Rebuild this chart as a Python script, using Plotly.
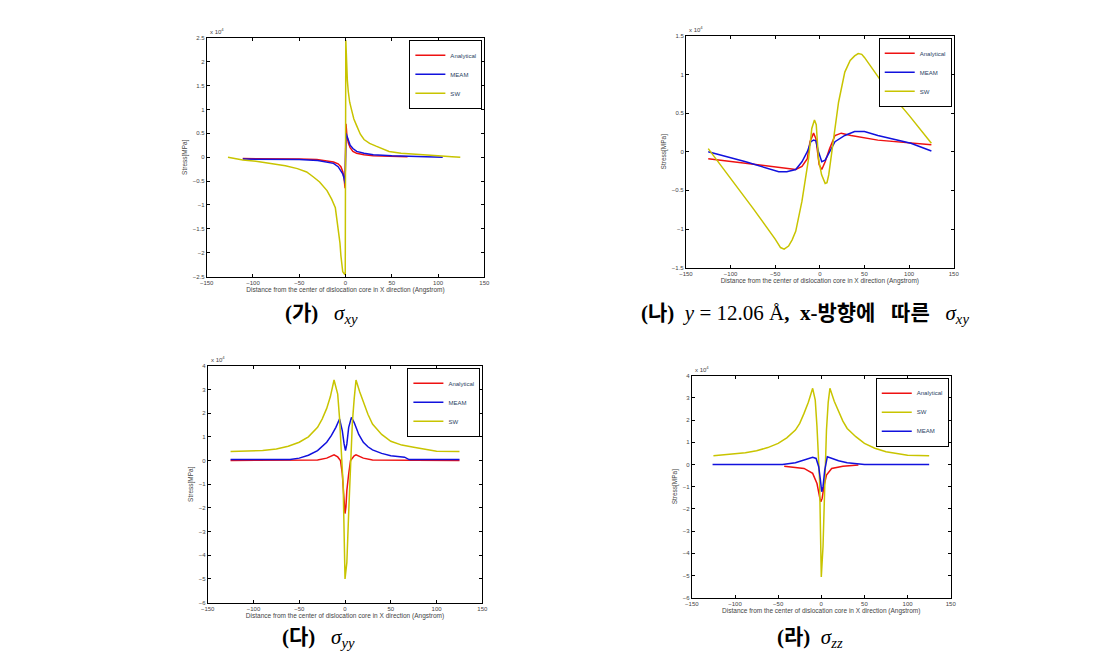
import plotly.graph_objects as go

# ---------------- data (stress, x10^4 MPa) ----------------
# (가) sigma_xy
x1_ana = [-111, -90, -70, -50, -31, -20, -13, -8, -5, -3, -1.5, -0.5, 0.5, 1.5, 3, 5, 8, 12, 20, 30, 45, 67]
y1_ana = [-0.03, -0.03, -0.04, -0.04, -0.05, -0.08, -0.1, -0.14, -0.2, -0.3, -0.45, -0.65, 0.7, 0.45, 0.3, 0.2, 0.12, 0.08, 0.05, 0.03, 0.02, 0.01]
x1_meam = [-111, -90, -70, -50, -30, -20, -13, -8, -5, -3, -1.5, -0.5, 0.5, 1.5, 3, 5, 8, 12, 20, 30, 50, 75, 105]
y1_meam = [-0.04, -0.04, -0.04, -0.05, -0.07, -0.1, -0.13, -0.2, -0.28, -0.35, -0.45, -0.55, 0.5, 0.45, 0.35, 0.25, 0.18, 0.12, 0.08, 0.05, 0.03, 0.02, 0.0]
x1_sw = [-127, -111, -95, -81, -65, -52, -42, -35, -28, -20, -15, -11, -8, -6, -5, -3, -1, -0.3,
         0.3, 1, 2, 3, 4.5, 6.4, 9, 12, 16, 20, 26, 33, 40, 47, 60, 79, 100, 115, 124]
y1_sw = [0.0, -0.06, -0.09, -0.13, -0.18, -0.24, -0.31, -0.41, -0.52, -0.7, -0.88, -1.06, -1.49, -1.8, -2.06, -2.4, -2.45, -2.45,
         2.45, 1.87, 1.6, 1.37, 1.15, 1.0, 0.8, 0.66, 0.48, 0.37, 0.29, 0.23, 0.17, 0.12, 0.08, 0.05, 0.03, 0.01, 0.0]

# (나) sigma_xy at y = 12.06 A
x2_ana = [-125, -38, -27, -20, -14, -11, -7, -4.4, -0.7, 2.2, 6, 11, 17, 24, 35, 65, 102, 125]
y2_ana = [-0.09, -0.21, -0.23, -0.19, -0.09, 0.13, 0.24, 0.17, -0.17, -0.23, -0.13, 0.04, 0.21, 0.24, 0.21, 0.15, 0.11, 0.09]
x2_meam = [-125, -83, -46, -37, -27, -20, -14, -10, -7, -4.4, -1.5, 2.2, 6, 11, 17, 28, 39, 50, 65, 102, 125]
y2_meam = [0.0, -0.13, -0.26, -0.26, -0.23, -0.13, 0.0, 0.13, 0.15, 0.14, 0.0, -0.13, -0.11, 0.0, 0.13, 0.21, 0.26, 0.26, 0.21, 0.11, 0.01]
x2_sw = [-125, -100, -75, -50, -44, -40, -35, -31, -27, -20, -12.6, -9, -6, -4, -1.5, 2, 6, 8, 10, 15, 21, 28, 34, 39, 43, 47, 50, 75, 100, 125]
y2_sw = [0.04, -0.34, -0.73, -1.13, -1.24, -1.26, -1.22, -1.14, -1.03, -0.64, -0.09, 0.3, 0.41, 0.35, -0.09, -0.3, -0.41, -0.4, -0.3, 0.13, 0.64, 1.03, 1.18, 1.24, 1.27, 1.26, 1.22, 0.81, 0.47, 0.11]

# (다) sigma_yy
x3_ana = [-125, -30, -20, -12, -8, -5, -3, -1, 0, 1, 2, 4, 6, 10, 12, 20, 30, 125]
y3_ana = [0.0, 0.02, 0.1, 0.24, 0.15, 0.0, -0.56, -1.7, -2.24, -1.96, -1.26, -0.56, 0.0, 0.2, 0.24, 0.1, 0.02, 0.0]
x3_meam = [-125, -60, -50, -40, -30, -25, -20, -15, -10, -6, -3, -1, 0.5, 2, 4, 7, 10, 15, 20, 25, 30, 40, 50, 65, 70, 125]
y3_meam = [0.04, 0.04, 0.1, 0.22, 0.42, 0.58, 0.77, 1.05, 1.4, 1.75, 1.26, 0.7, 0.42, 0.7, 1.4, 1.82, 1.6, 1.1, 0.77, 0.58, 0.45, 0.3, 0.2, 0.14, 0.04, 0.04]
x3_sw = [-125, -100, -90, -75, -62, -50, -40, -30, -25, -20, -16, -12, -10, -8, -6, -4, -2, 0, 2, 4, 6, 8, 10, 12, 16, 20, 25, 30, 40, 50, 62, 75, 90, 100, 125]
y3_sw = [0.38, 0.39, 0.42, 0.49, 0.6, 0.77, 1.0, 1.4, 1.75, 2.2, 2.7, 3.4, 3.1, 2.8, 1.8, 0.5, -1.1, -5.0, -4.3, -2.2, 0.14, 1.6, 2.6, 3.4, 2.9, 2.45, 1.95, 1.54, 1.1, 0.81, 0.65, 0.56, 0.45, 0.39, 0.38]

# (라) sigma_zz
x4_ana = [-43, -20, -10, -5, -2, -0.5, 1, 3, 6, 12, 25, 43]
y4_ana = [-0.08, -0.18, -0.4, -0.86, -1.46, -1.68, -1.53, -1.0, -0.48, -0.18, -0.08, -0.03]
x4_meam = [-126, -45, -30, -20, -10, -6, -3, -1, 0.5, 2, 4, 7, 12, 20, 30, 45, 50, 125]
y4_meam = [0.0, 0.0, 0.08, 0.2, 0.32, 0.27, -0.1, -0.7, -1.23, -1.0, -0.25, 0.35, 0.27, 0.17, 0.08, 0.02, 0.0, 0.0]
x4_sw = [-125, -100, -88, -75, -62, -50, -40, -30, -25, -20, -15, -10, -7, -5, -2, 0, 2, 4, 6, 8, 10, 15, 20, 25, 30, 40, 50, 62, 75, 88, 100, 125]
y4_sw = [0.39, 0.47, 0.53, 0.62, 0.76, 0.95, 1.2, 1.55, 1.85, 2.3, 2.8, 3.43, 2.9, 1.7, -0.7, -5.07, -3.7, -1.0, 1.55, 2.8, 3.43, 2.85, 2.38, 1.95, 1.62, 1.25, 0.95, 0.73, 0.57, 0.48, 0.42, 0.39]

x_ticks = [-150, -100, -50, 0, 50, 100, 150]
y1_ticks = [-2.5, -2, -1.5, -1, -0.5, 0, 0.5, 1, 1.5, 2, 2.5]
y2_ticks = [-1.5, -1, -0.5, 0, 0.5, 1, 1.5]
y34_ticks = [-6, -5, -4, -3, -2, -1, 0, 1, 2, 3, 4]

SP = "&nbsp;"
captions = ["<b>(가)</b>" + SP * 3 + "<i>σ<sub>xy</sub></i>",
            "<b>(나)</b>" + SP * 2 + "<i>y</i> = 12.06 Å<b>," + SP * 2 + "x-방향에" + SP * 3 + "따른</b>" + SP * 3 + "<i>σ<sub>xy</sub></i>",
            "<b>(다)</b>" + SP * 3 + "<i>σ<sub>yy</sub></i>",
            "<b>(라)</b>" + SP * 2 + "<i>σ<sub>zz</sub></i>"]

RED = "#ee1111"
BLUE = "#1111dd"
YEL = "#c8c400"

W, H = 1093, 662
def px(x): return x / W
def py(y): return 1 - y / H

boxes = [(194, 475, 27, 268), (679, 950, 25, 259), (195, 473, 358, 597), (685, 947, 368, 592)]

fig = go.Figure()

series = [
    [("Analytical", x1_ana, y1_ana, RED), ("MEAM", x1_meam, y1_meam, BLUE), ("SW", x1_sw, y1_sw, YEL)],
    [("Analytical", x2_ana, y2_ana, RED), ("MEAM", x2_meam, y2_meam, BLUE), ("SW", x2_sw, y2_sw, YEL)],
    [("Analytical", x3_ana, y3_ana, RED), ("MEAM", x3_meam, y3_meam, BLUE), ("SW", x3_sw, y3_sw, YEL)],
    [("Analytical", x4_ana, y4_ana, RED), ("SW", x4_sw, y4_sw, YEL), ("MEAM", x4_meam, y4_meam, BLUE)],
]
yticks = [y1_ticks, y2_ticks, y34_ticks, y34_ticks]
yranges = [[-2.5, 2.5], [-1.5, 1.5], [-6, 4], [-6, 4]]

FONT = "Arial, Liberation Sans, sans-serif"
tick_font = dict(family=FONT, size=6, color="#444")
xlabel = "Distance from the center of dislocation core in X direction (Angstrom)"

for i in range(4):
    n = i + 1
    suffix = "" if n == 1 else str(n)
    legname = "legend" if n == 1 else f"legend{n}"
    for name, xs, ys, col in series[i]:
        fig.add_trace(go.Scatter(x=xs, y=ys, mode="lines", name=name,
                                 line=dict(color=col, width=1.5),
                                 xaxis="x" + suffix, yaxis="y" + suffix,
                                 legend=legname, showlegend=True))
    x0, x1, y0, y1 = boxes[i]
    axstyle = dict(showline=True, linecolor="black", linewidth=1, mirror="ticks",
                   ticks="inside", ticklen=3, tickcolor="black", showgrid=False,
                   zeroline=False, tickfont=tick_font)
    fig.layout["xaxis" + suffix] = dict(domain=[px(x0), px(x1)], anchor="y" + suffix,
                                        range=[-150, 150], tickvals=x_ticks,
                                        title=dict(text=xlabel, font=dict(size=6.5, color="#444", family=FONT),
                                                   standoff=2),
                                        **axstyle)
    fig.layout["yaxis" + suffix] = dict(domain=[py(y1), py(y0)], anchor="x" + suffix,
                                        range=yranges[i], tickvals=yticks[i],
                                        title=dict(text="Stress[MPa]", font=dict(size=6.5, color="#444", family=FONT),
                                                   standoff=4),
                                        **axstyle)
    fig.layout[legname] = dict(x=px(x1 - 2), y=py(y0 + 2), xanchor="right", yanchor="top",
                               bgcolor="white", bordercolor="black", borderwidth=1,
                               font=dict(size=6, family=FONT),
                               itemwidth=30, tracegroupgap=0, traceorder="normal")
    fig.add_annotation(x=px(x0 + 1), y=py(y0 - 1), xref="paper", yref="paper",
                       text="x 10<sup>4</sup>", showarrow=False, xanchor="left", yanchor="bottom",
                       font=dict(size=6, color="#444", family=FONT))

cap_pos = [(310, 306), (800, 306), (307, 633), (805, 633)]
for (cx, cy), txt in zip(cap_pos, captions):
    fig.add_annotation(x=px(cx), y=py(cy), xref="paper", yref="paper", text=txt,
                       showarrow=False, xanchor="center", yanchor="middle",
                       font=dict(size=21, color="black",
                                 family="Liberation Serif, Noto Sans CJK KR, serif"))

fig.update_layout(width=W, height=H, margin=dict(l=0, r=0, t=0, b=0),
                  paper_bgcolor="white", plot_bgcolor="white", showlegend=True)

fig.write_html("out.html")
